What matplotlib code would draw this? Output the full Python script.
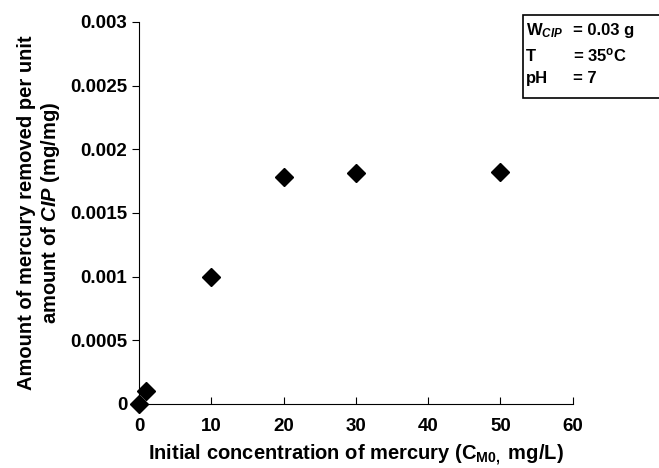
import matplotlib.pyplot as plt
from matplotlib.patches import Rectangle

plt.rcParams['font.family'] = 'Liberation Sans'
plt.rcParams['font.weight'] = 'bold'
plt.rcParams['mathtext.fontset'] = 'custom'
plt.rcParams['mathtext.rm'] = 'Liberation Sans:bold'
plt.rcParams['mathtext.bf'] = 'Liberation Sans:bold'
plt.rcParams['mathtext.it'] = 'Liberation Sans:italic:bold'
plt.rcParams['mathtext.bfit'] = 'Liberation Sans:italic:bold'

# Datos
conc = [0, 1, 10, 20, 30, 50]
removed = [0.0, 0.0001, 0.001, 0.00178, 0.00181, 0.00182]
xticks = [0, 10, 20, 30, 40, 50, 60]
yticks = [0, 0.0005, 0.001, 0.0015, 0.002, 0.0025, 0.003]
ytick_labels = ['0', '0.0005', '0.001', '0.0015', '0.002', '0.0025', '0.003']

fig = plt.figure(figsize=(6.59, 4.68), dpi=100)
ax = fig.add_axes([0.211, 0.137, 0.658, 0.816])

ax.plot(conc, removed, linestyle='none', marker='D', color='black', markersize=9, clip_on=False, zorder=5)

ax.set_xlim(0, 60)
ax.set_ylim(0, 0.003)
ax.set_xticks(xticks)
ax.set_yticks(yticks)
ax.set_yticklabels(ytick_labels)
ax.tick_params(axis='x', direction='in', length=5, labelsize=13.5, pad=10)
ax.tick_params(axis='y', direction='out', length=5, labelsize=13.5)
for lbl in ax.get_xticklabels() + ax.get_yticklabels():
    lbl.set_fontweight('bold')

ax.spines['top'].set_visible(False)
ax.spines['right'].set_visible(False)

ax.set_xlabel(r'Initial concentration of mercury (C$_{\mathrm{M0,}}$ mg/L)', fontsize=14.5, fontweight='bold', labelpad=6)
ax.set_ylabel('Amount of mercury removed per unit\n' + r'amount of $\mathit{CIP}$ (mg/mg)',
              fontsize=14.5, fontweight='bold', labelpad=6, linespacing=1.15)

# Cuadro de condiciones
fig.patches.append(Rectangle((523 / 659, 1 - 98 / 468), 0.3, 83 / 468, transform=fig.transFigure,
                             facecolor='white', edgecolor='black', linewidth=1.2))
rows = [(r'W$_{\mathit{CIP}}$', '= 0.03 g', 35),
        ('T', r'= 35$^{\mathrm{o}}$C', 61),
        ('pH', '= 7', 83)]
for left, right, ypix in rows:
    fig.text(526 / 659, 1 - ypix / 468, left, fontsize=12, fontweight='bold', ha='left', va='baseline')
    fig.text(573 / 659, 1 - ypix / 468, right, fontsize=12, fontweight='bold', ha='left', va='baseline')

fig.savefig('out.png', dpi=100)
